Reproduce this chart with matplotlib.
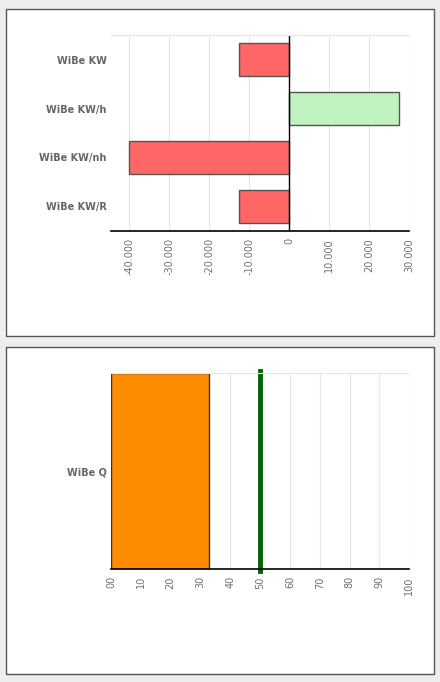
import matplotlib
matplotlib.use("Agg")
import matplotlib.pyplot as plt
from matplotlib.patches import Rectangle
from matplotlib.ticker import FuncFormatter

# Chart data
wibe_labels = ["WiBe KW", "WiBe KW/h", "WiBe KW/nh", "WiBe KW/R"]
wibe_values = [-12500, 27500, -40000, -12500]
wibe_ticks = [-40000, -30000, -20000, -10000, 0, 10000, 20000, 30000]

q_labels = ["WiBe Q"]
q_values = [33]
q_target = 50
q_ticks = [0, 10, 20, 30, 40, 50, 60, 70, 80, 90, 100]

W, H = 440, 682
fig = plt.figure(figsize=(W / 100, H / 100), dpi=100)
fig.patch.set_facecolor("#eeeeee")


def px_axes(x0, y0, x1, y1):
    # pixel box (top-left origin) -> figure axes
    return fig.add_axes([x0 / W, 1 - y1 / H, (x1 - x0) / W, (y1 - y0) / H])


def panel(x0, y0, x1, y1):
    fig.patches.append(Rectangle((x0 / W, 1 - y1 / H), (x1 - x0) / W, (y1 - y0) / H,
                                 transform=fig.transFigure, facecolor="white",
                                 edgecolor="#555555", linewidth=1, zorder=-5))


def style_axes(ax):
    for side in ["left", "right"]:
        ax.spines[side].set_visible(False)
    ax.spines["top"].set_color("#e6e6e6")
    ax.spines["bottom"].set_color("black")
    ax.spines["bottom"].set_linewidth(1.2)
    ax.grid(axis="x", color="#e6e6e6", linewidth=0.8)
    ax.set_axisbelow(True)
    ax.tick_params(axis="x", length=0, pad=5, labelsize=7, labelcolor="#707070")
    ax.tick_params(axis="y", length=0, pad=3)
    for lbl in ax.get_yticklabels():
        lbl.set_fontweight("bold")
        lbl.set_fontsize(7)
        lbl.set_color("#666666")
    for lbl in ax.get_xticklabels():
        lbl.set_rotation(90)
        lbl.set_va("top")
        lbl.set_ha("center")


# Top panel
panel(6, 9, 434, 336)
ax1 = px_axes(111, 35, 409.3, 231)
colors1 = ["#ff6666" if v < 0 else "#c0f2c0" for v in wibe_values]
ax1.barh(range(len(wibe_labels)), wibe_values, height=0.69, color=colors1,
         edgecolor="#555555", linewidth=1)
ax1.axvline(0, color="black", linewidth=1)
ax1.set_xlim(-44600, 30000)
ax1.set_ylim(len(wibe_labels) - 0.5, -0.5)
ax1.set_yticks(range(len(wibe_labels)))
ax1.set_yticklabels(wibe_labels)
ax1.set_xticks(wibe_ticks)
ax1.xaxis.set_major_formatter(FuncFormatter(lambda v, p: f"{int(v):,}".replace(",", ".")))
style_axes(ax1)

# Bottom panel
panel(6, 347, 434, 674)
ax2 = px_axes(111, 373.3, 409.3, 569.3)
ax2.barh(range(len(q_labels)), q_values, height=1.0, color="#ff8c00",
         edgecolor="#333333", linewidth=1)
ax2.axvline(q_target, ymin=-0.01, ymax=1.01, color="#006400", linewidth=3.5, clip_on=False)
ax2.set_xlim(0, 100)
ax2.set_ylim(-0.5, 0.5)
ax2.set_yticks(range(len(q_labels)))
ax2.set_yticklabels(q_labels)
ax2.set_xticks(q_ticks)
ax2.xaxis.set_major_formatter(FuncFormatter(lambda v, p: f"{int(v):02d}"))
style_axes(ax2)

fig.savefig("out.png", dpi=100, facecolor=fig.get_facecolor())
